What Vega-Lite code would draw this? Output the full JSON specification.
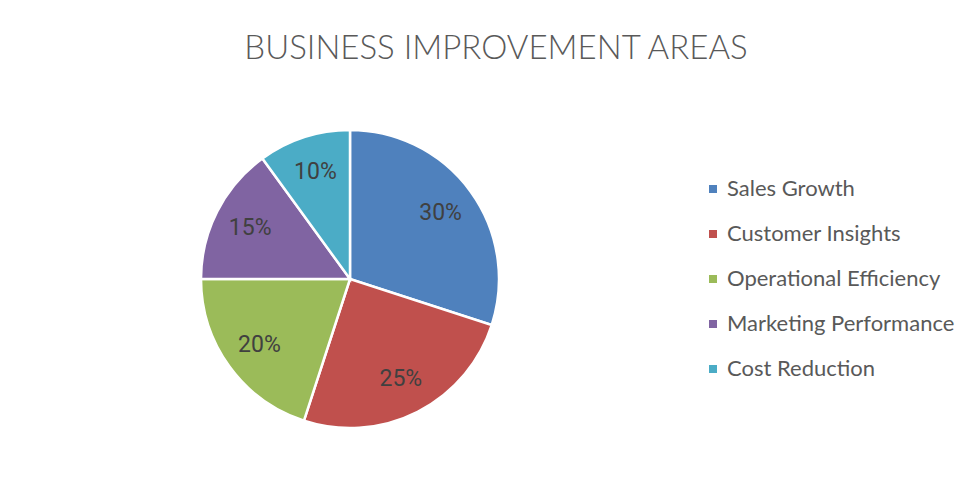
{
  "$schema": "https://vega.github.io/schema/vega-lite/v6.json",
  "width": 700,
  "height": 418,
  "autosize": {"type": "none"},
  "padding": {"left": 0, "top": 70, "right": 273, "bottom": 0},
  "background": "white",
  "title": {
    "text": "BUSINESS IMPROVEMENT AREAS",
    "anchor": "middle",
    "dx": 146,
    "dy": 6,
    "offset": 10,
    "font": "Lato",
    "fontSize": 33,
    "fontWeight": 300,
    "color": "#595959"
  },
  "data": {
    "values": [
      {"area": "Sales Growth", "share": 0.30, "rank": 1},
      {"area": "Customer Insights", "share": 0.25, "rank": 2},
      {"area": "Operational Efficiency", "share": 0.20, "rank": 3},
      {"area": "Marketing Performance", "share": 0.15, "rank": 4},
      {"area": "Cost Reduction", "share": 0.10, "rank": 5}
    ]
  },
  "encoding": {
    "theta": {"field": "share", "type": "quantitative", "stack": true},
    "order": {"field": "rank", "type": "quantitative"}
  },
  "layer": [
    {
      "mark": {"type": "arc", "outerRadius": 149, "stroke": "white", "strokeWidth": 2.5},
      "encoding": {
        "color": {
          "field": "area",
          "type": "nominal",
          "sort": ["Sales Growth", "Customer Insights", "Operational Efficiency", "Marketing Performance", "Cost Reduction"],
          "scale": {
            "domain": ["Sales Growth", "Customer Insights", "Operational Efficiency", "Marketing Performance", "Cost Reduction"],
            "range": ["#4F81BD", "#C0504D", "#9BBB59", "#8064A2", "#4BACC6"]
          },
          "legend": {
            "title": null,
            "orient": "none",
            "legendX": 702,
            "legendY": 108,
            "symbolType": "square",
            "symbolSize": 64,
            "symbolStrokeWidth": 0,
            "labelFont": "Lato",
            "labelFontSize": 22,
            "labelColor": "#595959",
            "labelOffset": 3,
            "rowPadding": 23,
            "labelLimit": 400
          }
        }
      }
    },
    {
      "mark": {"type": "text", "radius": 112, "font": "Roboto", "fontSize": 23, "color": "#404040", "align": "center", "baseline": "middle"},
      "encoding": {
        "text": {"field": "share", "type": "quantitative", "format": ".0%"}
      }
    }
  ],
  "config": {"view": {"stroke": null}}
}
